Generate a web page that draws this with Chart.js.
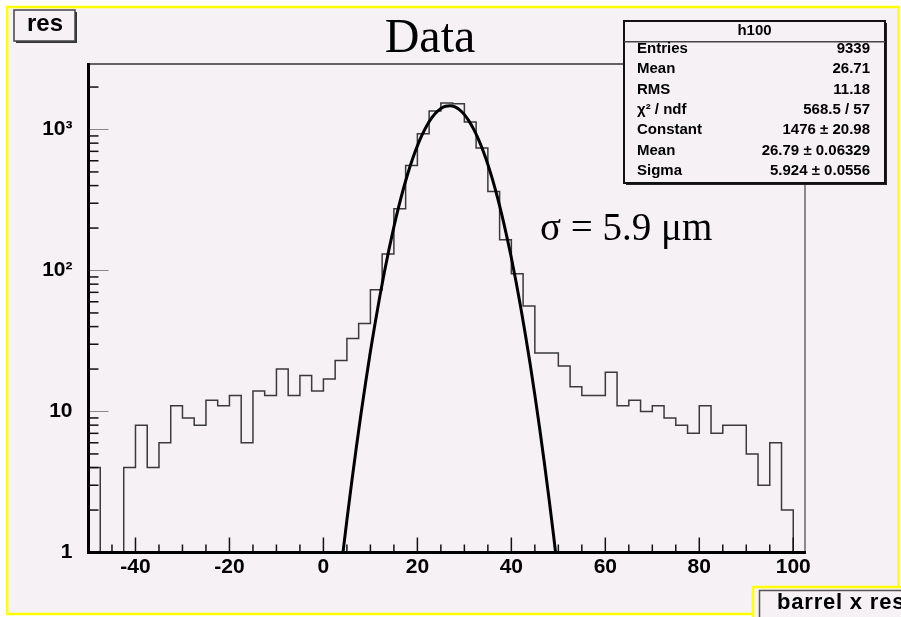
<!DOCTYPE html>
<html><head><meta charset="utf-8">
<script src="https://cdn.jsdelivr.net/npm/chart.js@4.4.1/dist/chart.umd.min.js"></script>
<style>html,body{margin:0;padding:0;background:#fff}canvas{display:block}</style>
</head><body>
<canvas id="c" width="901" height="617"></canvas>
<script>
// ---------------- data ----------------
const binLowEdge = -50;      // lower edge of first bin
const binWidth = 2.5;        // bin width
const counts = [4,0,0,4,8,4,6,11,9,8,12,11,13,6,14,13,20,13,18,14,17,23,33,
  42,73,131,274,556,932,1350,1540,1520,1130,740,363,165,95,56,
  26,26,21,15,13,13,19,11,12,10,11,9,8,7,11,7,8,8,5,3,6,2];
const fitX = [4,5,6,7,8,9,10,11,12,13,14,15,16,17,18,19,20,21,22,23,24,25,26,27,
  28,29,30,31,32,33,34,35,36,37,38,39,40,41,42,43,44,45,46,47,48,49,50];
const fitY = [0.90,1.70,3.12,5.56,9.65,16.2,26.6,42.3,65.4,98.3,143.5,203.7,281,377,491,622,765,915,1064,1203,1321,1410,1463,1475,
  1446,1377,1275,1147,1002,852,704,565,441,334,246,176,123,83.1,54.6,34.9,21.7,13.1,7.69,4.38,2.43,1.31,0.68];
const xTickLabels = [-40,-20,0,20,40,60,80,100];
const yTickValues = [1,10,100,1000];
const yTickLabels = ['1','10','10²','10³'];
const xRange = [-50, 102.5];
const yRange = [1, 2914];
const chartTitle = 'Data';
const annotation = 'σ = 5.9 μm';
const padTitle = 'res';
const canvasTitle = 'barrel x res';
const statsTitle = 'h100';
const statsNames = ['Entries','Mean','RMS','χ² / ndf','Constant','Mean','Sigma'];
const statsValues = ['9339','26.71','11.18','568.5 / 57','1476 ± 20.98','26.79 ± 0.06329','5.924 ± 0.0556'];

// ---------------- build ----------------
const histPts = counts.map((c, i) => ({x: binLowEdge + i * binWidth, y: c > 0 ? c : yRange[0]}));
histPts.push({x: binLowEdge + counts.length * binWidth, y: yRange[0]});
const fitPts = fitX.map((x, i) => ({x, y: fitY[i]}));

const BG = '#f5f1f5';
const SANS = '"Liberation Sans", Arial, sans-serif';
const SERIF = '"Liberation Serif", "Times New Roman", serif';

function line(c, x1, y1, x2, y2) { c.beginPath(); c.moveTo(x1, y1); c.lineTo(x2, y2); c.stroke(); }

const decor = {
  id: 'decor',
  beforeDraw(chart) {
    const c = chart.ctx; c.save();
    c.fillStyle = '#fff'; c.fillRect(0, 0, 901, 617);
    c.fillStyle = BG; c.fillRect(7, 7, 892, 607);
    c.fillRect(753, 587, 148, 30);
    c.restore();
  },
  afterDatasetsDraw(chart) {
    const c = chart.ctx, a = chart.chartArea, xs = chart.scales.x, ys = chart.scales.y;
    c.save();
    // frame top/right
    c.strokeStyle = '#333'; c.lineWidth = 1.5;
    line(c, a.left, a.top, a.right, a.top);
    c.strokeStyle = '#666';
    line(c, a.right, a.top, a.right, a.bottom);
    // x ticks (inward)
    c.strokeStyle = '#111'; c.lineWidth = 1.5;
    for (let v = -45; v <= 100; v += 5) {
      const px = xs.getPixelForValue(v);
      const len = (v % 20 === 0) ? 15 : 8;
      line(c, px, a.bottom, px, a.bottom - len);
    }
    // y ticks
    for (const d of yTickValues) {
      c.strokeStyle = '#888'; c.lineWidth = 1;
      const py = ys.getPixelForValue(d);
      line(c, a.left, py, a.left + 20, py);
      c.strokeStyle = '#111'; c.lineWidth = 1.5;
      for (let m = 2; m <= 9; m++) {
        const v = m * d; if (v > yRange[1]) break;
        const p = ys.getPixelForValue(v);
        line(c, a.left, p, a.left + 10, p);
      }
    }
    // axes lines
    c.strokeStyle = '#000'; c.lineWidth = 3;
    line(c, a.left, a.top - 1, a.left, a.bottom + 1.5);
    line(c, a.left - 1.5, a.bottom, a.right + 1, a.bottom);
    c.restore();
  },
  afterDraw(chart) {
    const c = chart.ctx; c.save();
    // yellow pad border
    c.strokeStyle = '#ffff00'; c.lineWidth = 2.5;
    c.beginPath();
    c.moveTo(753, 614); c.lineTo(7, 614); c.lineTo(7, 7); c.lineTo(898.5, 7); c.lineTo(898.5, 587);
    c.stroke();
    // title
    c.fillStyle = '#000';
    c.font = '48px ' + SERIF; c.textAlign = 'center'; c.textBaseline = 'alphabetic';
    c.fillText(chartTitle, 430, 52);
    // annotation
    c.font = '39px ' + SERIF; c.textAlign = 'left';
    c.fillText(annotation, 540, 240);
    // stats box
    const bx = 624, by = 21, bw = 261, bh = 162;
    c.fillStyle = BG; c.fillRect(bx, by, bw, bh);
    c.fillStyle = '#222';
    c.fillRect(bx + bw, by + 2, 2, bh);
    c.fillRect(bx + 2, by + bh, bw, 2);
    c.strokeStyle = '#111'; c.lineWidth = 2;
    c.strokeRect(bx, by, bw, bh);
    c.lineWidth = 1.5; c.strokeStyle = '#444';
    line(c, bx, 41.7, bx + bw, 41.7);
    c.fillStyle = '#000';
    c.font = 'bold 15px ' + SANS; c.textBaseline = 'middle';
    c.textAlign = 'center'; c.fillText(statsTitle, bx + bw / 2, 31);
    statsNames.forEach((n, i) => {
      const y = 48.8 + i * 20.35;
      c.textAlign = 'left'; c.fillText(n, 637, y);
      c.textAlign = 'right'; c.fillText(statsValues[i], 870, y);
    });
    // pad title box "res"
    c.fillStyle = '#333';
    c.fillRect(16, 41, 60, 2); c.fillRect(75, 12, 2, 31);
    c.strokeStyle = '#444'; c.lineWidth = 1.5;
    c.strokeRect(14, 10, 61, 31);
    c.fillStyle = '#000'; c.font = 'bold 24px ' + SANS; c.textAlign = 'center'; c.textBaseline = 'alphabetic';
    c.fillText(padTitle, 45, 31);
    // canvas title box
    c.strokeStyle = '#ffff00'; c.lineWidth = 2.5;
    c.beginPath(); c.moveTo(753, 617); c.lineTo(753, 587); c.lineTo(901, 587); c.stroke();
    c.strokeStyle = '#555'; c.lineWidth = 1.5;
    c.beginPath(); c.moveTo(759.5, 617); c.lineTo(759.5, 590.5); c.lineTo(901, 590.5); c.stroke();
    c.fillStyle = '#000'; c.font = 'bold 22px ' + SANS; c.textAlign = 'left';
    c.letterSpacing = '0.8px';
    c.fillText(canvasTitle, 777, 609);
    c.restore();
  }
};

new Chart(document.getElementById('c'), {
  type: 'line',
  data: {
    datasets: [
      {label: 'fit', data: fitPts, borderColor: '#000', borderWidth: 3, pointRadius: 0,
       cubicInterpolationMode: 'monotone', fill: false, order: 0},
      {label: 'h100', data: histPts, borderColor: '#3a3a3a', borderWidth: 1.5, pointRadius: 0,
       stepped: 'before', fill: false, order: 1}
    ]
  },
  options: {
    responsive: false, animation: false, devicePixelRatio: 1,
    layout: {padding: {left: 8, right: 96, top: 64, bottom: 0}},
    plugins: {legend: {display: false}, tooltip: {enabled: false}, title: {display: false}},
    scales: {
      x: {
        type: 'linear', min: xRange[0], max: xRange[1],
        grid: {display: false, drawTicks: false}, border: {display: false},
        afterBuildTicks: s => { s.ticks = xTickLabels.map(v => ({value: v})); },
        afterFit: s => { s.height = 617 - 552.5; },
        ticks: {padding: 2, color: '#000', autoSkip: false, maxRotation: 0,
          font: {family: SANS, size: 21, weight: 'bold'},
          callback: (v) => String(v)}
      },
      y: {
        type: 'logarithmic', min: yRange[0], max: yRange[1],
        grid: {display: false, drawTicks: false}, border: {display: false},
        afterBuildTicks: s => { s.ticks = yTickValues.map(v => ({value: v})); },
        afterFit: s => { s.width = 80.5; },
        ticks: {padding: 16, color: '#000', autoSkip: false,
          font: {family: SANS, size: 21, weight: 'bold'},
          callback: (v, i) => yTickLabels[i]}
      }
    }
  },
  plugins: [decor]
});
</script>
</body></html>
